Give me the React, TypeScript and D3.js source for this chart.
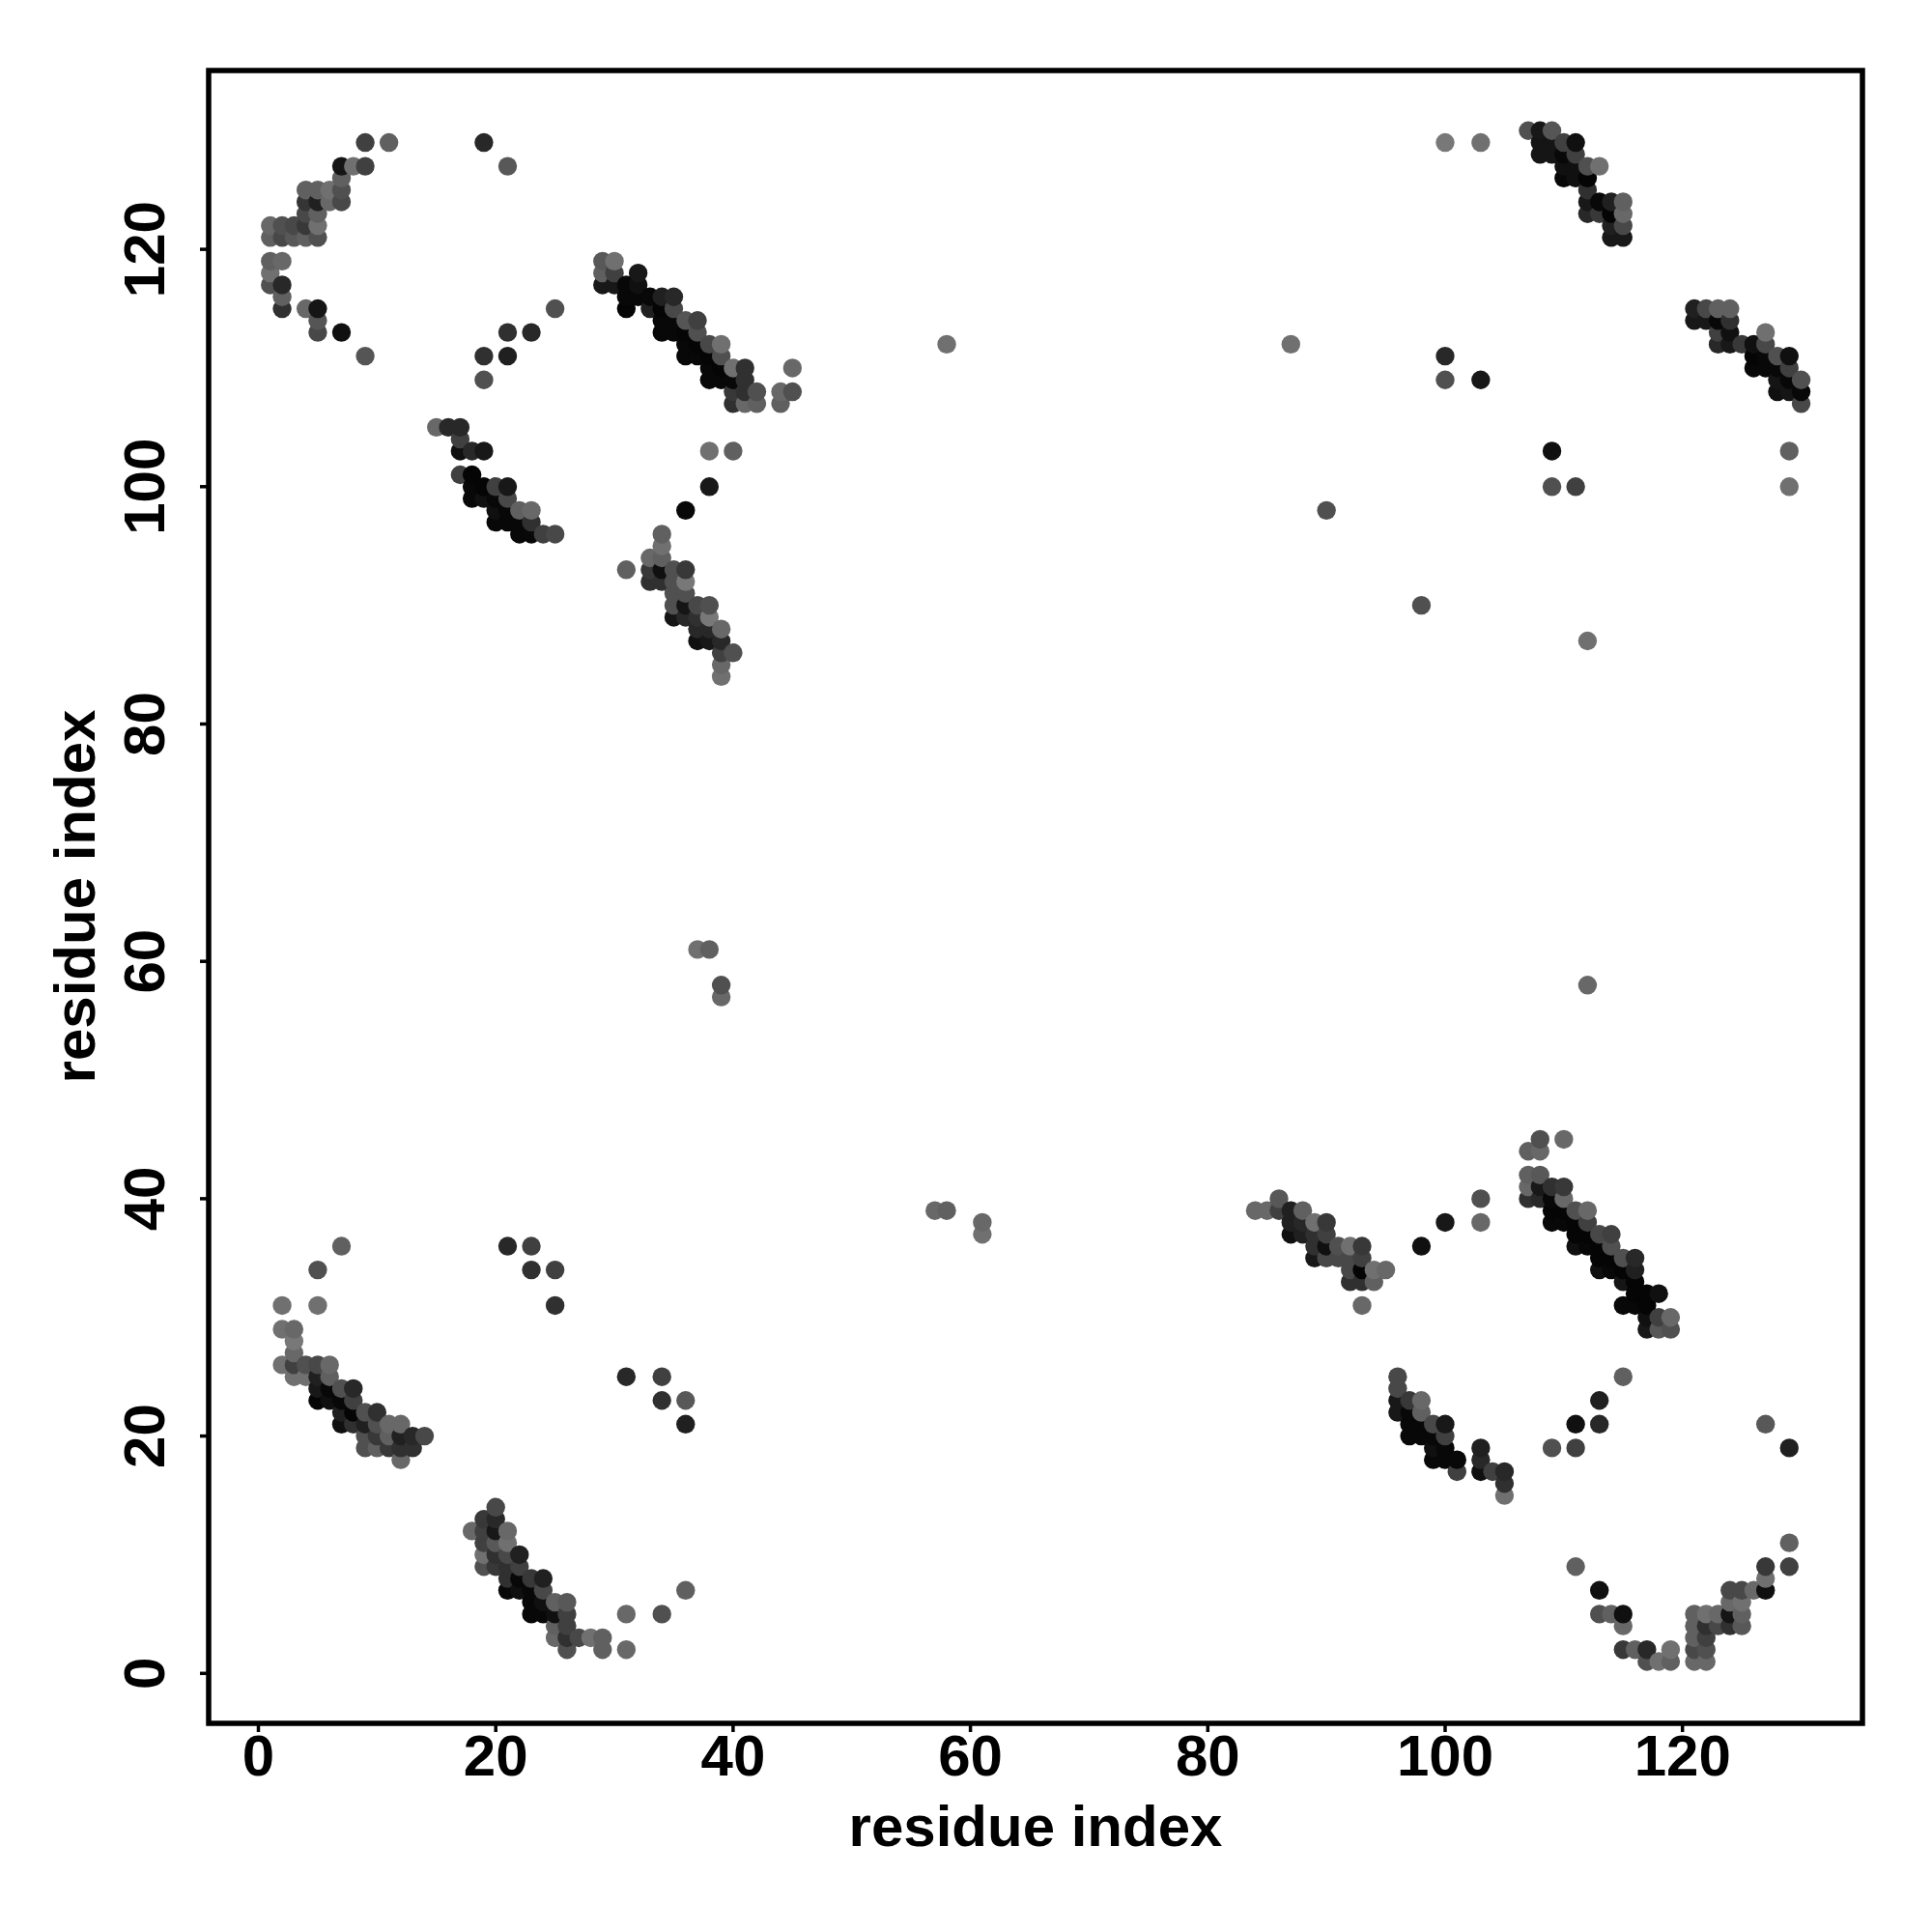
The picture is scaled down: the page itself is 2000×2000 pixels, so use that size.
import React from "react";
import * as d3 from "d3";

type P = [number, number, number]; // residue i, residue j, grey level

const tickValues = [0, 20, 40, 60, 80, 100, 120];
const axisTitle = "residue index";

const clusterTopLeftA: P[] = [
  [9,129,0x40],[11,129,0x60],[7,127,0x15],[8,127,0x70],[9,127,0x40],[7,126,0x60],
  [4,125,0x60],[5,125,0x60],[6,125,0x70],[7,125,0x50],[4,124,0x35],[5,124,0x20],[6,124,0x68],[7,124,0x48],
  [4,123,0x48],[5,123,0x60],[1,122,0x68],[2,122,0x50],[3,122,0x48],[4,122,0x38],[5,122,0x70],
  [1,121,0x60],[2,121,0x48],[3,121,0x58],[4,121,0x60],[5,121,0x50],[1,119,0x60],[2,119,0x68],[1,118,0x70],
  [1,117,0x50],[2,117,0x28],[2,116,0x60],[2,115,0x30],[4,115,0x68],[5,115,0x15],[5,114,0x55],[5,113,0x48],
  [7,113,0x10],[9,111,0x55],
];
const clusterTopLeftB: P[] = [
  [29,119,0x58],[30,119,0x70],[29,118,0x60],[30,118,0x40],[32,118,0x18],[29,117,0x18],[30,117,0x18],[31,117,0x08],[32,117,0x10],
  [31,116,0x08],[32,116,0x08],[33,116,0x08],[34,116,0x20],[35,116,0x28],[31,115,0x05],[33,115,0x20],[34,115,0x05],[35,115,0x48],
  [34,114,0x08],[35,114,0x08],[36,114,0x55],[37,114,0x40],[34,113,0x08],[35,113,0x08],[36,113,0x05],[37,113,0x50],
  [36,112,0x08],[37,112,0x05],[38,112,0x48],[39,112,0x70],[36,111,0x08],[37,111,0x08],[38,111,0x05],[39,111,0x50],
  [38,110,0x08],[39,110,0x05],[40,110,0x70],[41,110,0x30],[38,109,0x08],[39,109,0x08],[40,109,0x08],[41,109,0x30],
  [40,108,0x38],[41,108,0x30],[42,108,0x50],[44,108,0x68],[45,108,0x50],[40,107,0x30],[41,107,0x68],[42,107,0x60],[44,107,0x60],[45,110,0x68],
];
const clusterMidLeftA: P[] = [
  [15,105,0x68],[16,105,0x28],[17,105,0x28],[17,104,0x40],[17,103,0x10],[18,103,0x28],[19,103,0x18],[17,101,0x40],[18,101,0x05],
  [18,100,0x08],[19,100,0x05],[20,100,0x40],[21,100,0x18],[18,99,0x08],[19,99,0x10],[20,99,0x08],[21,99,0x48],
  [20,98,0x10],[21,98,0x08],[22,98,0x60],[23,98,0x68],[20,97,0x08],[21,97,0x08],[22,97,0x08],[23,97,0x30],
  [22,96,0x08],[23,96,0x08],[24,96,0x40],[25,96,0x48],
];
const clusterMidLeftB: P[] = [
  [38,103,0x70],[40,103,0x60],[38,100,0x18],[36,98,0x08],[34,96,0x60],[34,95,0x70],[33,94,0x68],[34,94,0x60],
  [31,93,0x60],[33,93,0x38],[34,93,0x10],[35,93,0x50],[36,93,0x38],[33,92,0x30],[34,92,0x30],[35,92,0x50],[36,92,0x78],
  [35,91,0x50],[36,91,0x50],[35,90,0x50],[36,90,0x15],[37,90,0x48],[38,90,0x50],[35,89,0x15],[36,89,0x28],[37,89,0x30],[38,89,0x78],
  [37,88,0x28],[38,88,0x28],[39,88,0x68],[37,87,0x10],[38,87,0x18],[39,87,0x28],[39,86,0x40],[40,86,0x50],[39,85,0x68],[39,84,0x70],
];
const clusterTopRightA: P[] = [
  [107,130,0x50],[108,130,0x18],[109,130,0x55],[108,129,0x15],[109,129,0x15],[110,129,0x40],[111,129,0x10],
  [108,128,0x15],[109,128,0x15],[110,128,0x08],[111,128,0x40],[110,127,0x10],[111,127,0x10],[112,127,0x50],[113,127,0x70],
  [110,126,0x08],[111,126,0x10],[112,126,0x05],[112,125,0x30],[112,124,0x18],[113,124,0x08],[114,124,0x20],[115,124,0x60],
  [112,123,0x28],[113,123,0x38],[114,123,0x05],[115,123,0x68],[114,122,0x20],[115,122,0x48],[114,121,0x18],[115,121,0x18],
];
const clusterTopRightB: P[] = [
  [121,115,0x20],[122,115,0x48],[123,115,0x60],[124,115,0x60],[121,114,0x18],[122,114,0x18],[123,114,0x08],[124,114,0x30],
  [123,113,0x40],[124,113,0x10],[127,113,0x70],[123,112,0x28],[124,112,0x18],[125,112,0x38],[126,112,0x10],[127,112,0x48],
  [126,111,0x05],[127,111,0x08],[128,111,0x50],[129,111,0x10],[126,110,0x08],[127,110,0x08],[128,110,0x08],[129,110,0x40],
  [128,109,0x15],[129,109,0x08],[130,109,0x50],[128,108,0x10],[129,108,0x15],[130,108,0x08],[130,107,0x48],
];
const clusterBottomLeftA: P[] = [
  [2,31,0x70],[5,31,0x70],[2,29,0x70],[3,29,0x68],[3,28,0x78],[3,27,0x68],[2,26,0x70],[3,26,0x40],[4,26,0x50],[5,26,0x48],[6,26,0x68],
  [3,25,0x70],[4,25,0x70],[5,25,0x20],[6,25,0x60],[5,24,0x18],[6,24,0x08],[7,24,0x50],[8,24,0x28],[5,23,0x05],[6,23,0x10],[7,23,0x08],[8,23,0x40],
  [7,22,0x20],[8,22,0x05],[9,22,0x50],[10,22,0x30],[7,21,0x10],[8,21,0x30],[9,21,0x20],[10,21,0x50],[11,21,0x68],[12,21,0x68],
  [9,20,0x50],[10,20,0x38],[11,20,0x60],[12,20,0x20],[13,20,0x28],[14,20,0x48],[9,19,0x50],[10,19,0x60],[11,19,0x38],[12,19,0x30],[13,19,0x30],[12,18,0x68],
];
const clusterBottomLeftB: P[] = [
  [20,14,0x48],[19,13,0x38],[20,13,0x28],[18,12,0x68],[19,12,0x40],[20,12,0x18],[21,12,0x68],[19,11,0x40],[20,11,0x58],[21,11,0x70],
  [19,10,0x70],[20,10,0x30],[21,10,0x48],[22,10,0x20],[19,9,0x50],[20,9,0x38],[21,9,0x30],[22,9,0x40],
  [21,8,0x30],[22,8,0x08],[23,8,0x38],[24,8,0x20],[21,7,0x08],[22,7,0x10],[23,7,0x08],[24,7,0x48],
  [23,6,0x08],[24,6,0x10],[25,6,0x60],[26,6,0x58],[23,5,0x08],[24,5,0x08],[25,5,0x10],[26,5,0x40],[25,4,0x60],[26,4,0x40],
  [25,3,0x68],[26,3,0x30],[27,3,0x48],[28,3,0x70],[29,3,0x60],[26,2,0x50],[29,2,0x60],[31,2,0x68],[31,5,0x68],
];
const clusterBottomMidA: P[] = [
  [86,40,0x58],[84,39,0x68],[85,39,0x68],[86,39,0x40],[87,39,0x20],[88,39,0x60],[87,38,0x20],[88,38,0x28],[89,38,0x70],[90,38,0x38],
  [87,37,0x10],[88,37,0x20],[89,37,0x30],[90,37,0x40],[89,36,0x30],[90,36,0x10],[91,36,0x50],[92,36,0x70],[93,36,0x38],
  [89,35,0x18],[90,35,0x48],[91,35,0x48],[92,35,0x48],[93,35,0x40],[92,34,0x48],[93,34,0x05],[94,34,0x70],[95,34,0x68],
  [92,33,0x30],[93,33,0x30],[94,33,0x60],[93,31,0x68],
];
const clusterBottomRightA: P[] = [
  [108,45,0x50],[110,45,0x68],[107,44,0x60],[108,44,0x68],[107,42,0x60],[108,42,0x58],[107,41,0x68],[108,41,0x18],[109,41,0x30],[110,41,0x38],
  [107,40,0x30],[108,40,0x28],[109,40,0x08],[110,40,0x68],[109,39,0x05],[110,39,0x05],[111,39,0x50],[112,39,0x68],
  [109,38,0x08],[110,38,0x08],[111,38,0x05],[112,38,0x40],[111,37,0x05],[112,37,0x05],[113,37,0x48],[114,37,0x40],
  [111,36,0x10],[112,36,0x08],[113,36,0x05],[114,36,0x50],[113,35,0x05],[114,35,0x05],[115,35,0x50],[116,35,0x28],
  [113,34,0x10],[114,34,0x08],[115,34,0x05],[116,34,0x20],[115,33,0x15],[116,33,0x05],[116,32,0x05],[117,32,0x05],[118,32,0x10],
  [115,31,0x08],[116,31,0x08],[117,31,0x05],[117,30,0x10],[118,30,0x40],[119,30,0x68],[117,29,0x18],[118,29,0x58],[119,29,0x50],
];
const clusterBottomMidB: P[] = [
  [96,25,0x48],[96,24,0x48],[96,23,0x18],[97,23,0x38],[98,23,0x68],[96,22,0x18],[97,22,0x08],[98,22,0x60],
  [97,21,0x08],[98,21,0x08],[99,21,0x48],[100,21,0x18],[97,20,0x08],[98,20,0x08],[99,20,0x08],[100,20,0x40],
  [99,19,0x10],[100,19,0x08],[103,19,0x20],[99,18,0x08],[100,18,0x08],[101,18,0x08],[103,18,0x28],
  [101,17,0x40],[103,17,0x10],[104,17,0x40],[105,17,0x28],[105,16,0x30],[105,15,0x70],
];
const clusterBottomRightB: P[] = [
  [111,9,0x60],[127,9,0x38],[129,9,0x40],[127,8,0x70],[113,7,0x10],[124,7,0x48],[125,7,0x48],[126,7,0x68],[127,7,0x10],[124,6,0x68],[125,6,0x70],
  [113,5,0x50],[114,5,0x60],[115,5,0x10],[121,5,0x60],[122,5,0x70],[123,5,0x68],[124,5,0x15],[125,5,0x60],
  [115,4,0x68],[121,4,0x60],[122,4,0x30],[123,4,0x48],[124,4,0x30],[125,4,0x58],[121,3,0x60],[122,3,0x40],
  [115,2,0x38],[116,2,0x60],[117,2,0x28],[119,2,0x70],[121,2,0x48],[122,2,0x50],[117,1,0x50],[118,1,0x70],[119,1,0x60],[121,1,0x68],[122,1,0x68],
];
const isolatedPoints: P[] = [
  [19,129,0x28],[21,127,0x58],[19,111,0x30],[21,111,0x20],[21,113,0x30],[23,113,0x28],[19,109,0x50],[25,115,0x50],
  [58,112,0x70],[87,112,0x70],[100,129,0x78],[103,129,0x70],[100,111,0x28],[100,109,0x50],[103,109,0x18],
  [109,103,0x10],[109,100,0x50],[111,100,0x40],[129,103,0x60],[129,100,0x70],[90,98,0x50],[98,90,0x50],[112,87,0x70],
  [37,61,0x70],[38,61,0x60],[39,58,0x50],[39,57,0x68],[112,58,0x68],[57,39,0x68],[58,39,0x60],[61,38,0x68],[61,37,0x70],
  [7,36,0x60],[5,34,0x50],[21,36,0x28],[23,36,0x40],[23,34,0x30],[25,34,0x40],[25,31,0x30],
  [98,36,0x10],[100,38,0x18],[103,40,0x50],[103,38,0x68],[31,25,0x28],[34,25,0x40],[34,23,0x30],[36,23,0x58],[36,21,0x20],
  [109,19,0x50],[111,21,0x10],[111,19,0x40],[113,23,0x20],[113,21,0x28],[115,25,0x60],[127,21,0x58],[129,19,0x20],
  [129,11,0x60],[36,7,0x60],[34,5,0x50],
];

const allPoints: P[] = [
  ...clusterTopLeftA, ...clusterTopLeftB, ...clusterMidLeftA, ...clusterMidLeftB,
  ...clusterTopRightA, ...clusterTopRightB, ...clusterBottomLeftA, ...clusterBottomLeftB,
  ...clusterBottomMidA, ...clusterBottomRightA, ...clusterBottomMidB, ...clusterBottomRightB,
  ...isolatedPoints,
].sort((a, b) => a[0] - b[0] || a[1] - b[1]);

const FONT = '"Liberation Sans", Arial, sans-serif';

export default function App() {
  const left = 216, right = 1928, top = 73, bottom = 1784;
  const unit = 12.285;
  const x = d3.scaleLinear().domain([0, 130]).range([267.5, 267.5 + 130 * unit]);
  const y = d3.scaleLinear().domain([0, 130]).range([1732.3, 1732.3 - 130 * unit]);
  const shade = d3.scaleLinear<string>().domain([0, 255]).range(["#000000", "#ffffff"]);
  return (
    <svg width={2000} height={2000} viewBox="0 0 2000 2000"
      style={{ position: "absolute", left: 0, top: 0, background: "#fff" }}>
      {allPoints.map(([a, b, g], i) => (
        <circle key={i} cx={x(a)} cy={y(b)} r={9.7} fill={shade(g)} />
      ))}
      <rect x={left} y={top} width={right - left} height={bottom - top} fill="none" stroke="#000" strokeWidth={5.5} />
      {tickValues.map((t) => (
        <g key={t}>
          <line x1={x(t)} x2={x(t)} y1={bottom} y2={1793} stroke="#000" strokeWidth={3.5} />
          <text x={x(t)} y={1838} textAnchor="middle" fontFamily={FONT} fontWeight="bold" fontSize={60} fill="#000">{t}</text>
          <line x1={left} x2={207} y1={y(t)} y2={y(t)} stroke="#000" strokeWidth={3.5} />
          <text transform={`translate(170,${y(t)}) rotate(-90)`} textAnchor="middle" fontFamily={FONT} fontWeight="bold" fontSize={60} fill="#000">{t}</text>
        </g>
      ))}
      <text x={1072} y={1911} textAnchor="middle" fontFamily={FONT} fontWeight="bold" fontSize={60} fill="#000">{axisTitle}</text>
      <text transform={`translate(98,928) rotate(-90)`} textAnchor="middle" fontFamily={FONT} fontWeight="bold" fontSize={60} fill="#000">{axisTitle}</text>
    </svg>
  );
}
